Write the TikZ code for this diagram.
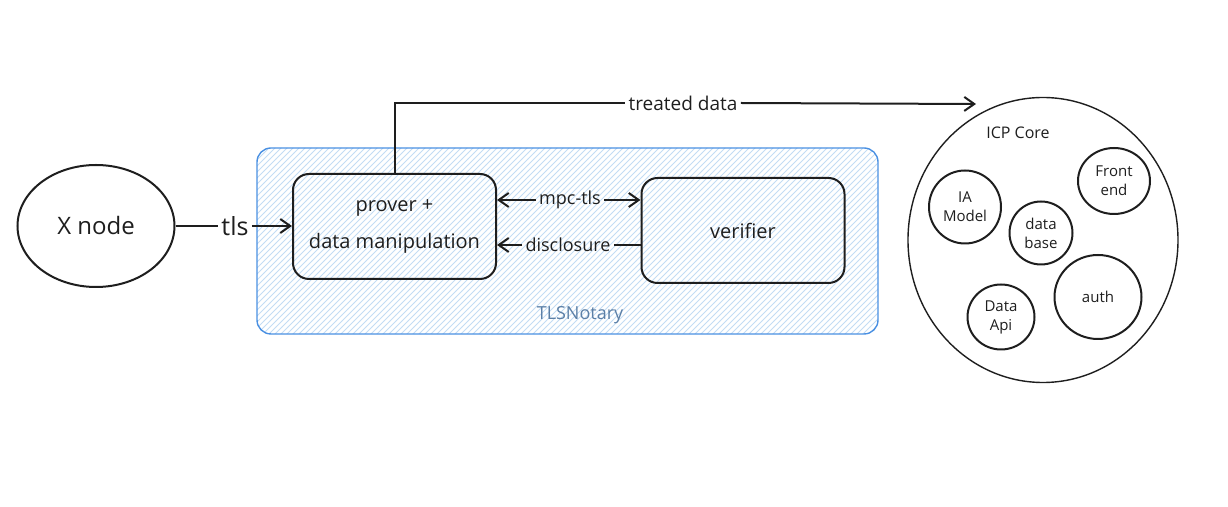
\documentclass[tikz,border=0pt]{standalone}
\usepackage{fontspec}
\setmainfont{Open Sans}
\usetikzlibrary{shapes.geometric,arrows.meta,patterns}
\definecolor{ink}{HTML}{1E1E1E}
\definecolor{notaryblue}{HTML}{4A90E2}
\definecolor{hatchblue}{HTML}{C3DCF4}
\definecolor{notarytext}{HTML}{5B7FA6}

\begin{document}
\begin{tikzpicture}[
    x=0.5pt,y=-0.5pt,
    tip/.style={line width=1pt, ink, -{Straight Barb[length=5pt,width=7pt]}},
    wire/.style={line width=1pt, ink},
    box/.style={draw=ink, line width=1pt, rounded corners=8pt, minimum width=101.5pt, minimum height=52.5pt, align=center, text=ink},
    blob/.style={ellipse, draw=ink, line width=1pt, align=center, text=ink, inner sep=0pt},
    lbl/.style={text=ink, inner sep=1.5pt}
    ]
    \useasboundingbox (0,0) rectangle (1228,507);
    \draw[notaryblue, line width=0.7pt, rounded corners=7pt, pattern=north east lines, pattern color=hatchblue] (257,148) rectangle (878,334);
    \node[text=notarytext, font=\fontsize{9}{11}\selectfont] (notary) at (580,315) {TLSNotary};

    \node[blob, minimum width=78.5pt, minimum height=61pt, font=\fontsize{12}{14}\selectfont] (xnode) at (96,226) {X node};
    \node[box, font=\fontsize{10}{18.5}\selectfont] (prover) at (394.5,226.5) {prover +\\data manipulation};
    \node[box, font=\fontsize{10}{12}\selectfont] (verifier) at (743,230.5) {verifier};

    \node[lbl, font=\fontsize{12.5}{14}\selectfont] (tls) at (235,226) {tls};
    \draw[wire] (xnode.east) -- (tls.west);
    \draw[tip] (tls.east) -- (prover.west |- tls);

    \node[lbl, font=\fontsize{9}{11}\selectfont] (mpc) at (570,200) {mpc-tls};
    \draw[tip] (mpc.west) -- (prover.east |- mpc);
    \draw[tip] (mpc.east) -- (verifier.west |- mpc);

    \node[lbl, font=\fontsize{9}{11}\selectfont] (disclosure) at (568,245) {disclosure};
    \draw[wire] (verifier.west |- disclosure) -- (disclosure.east);
    \draw[tip] (disclosure.west) -- (prover.east |- disclosure);

    \node[lbl, font=\fontsize{9.5}{11}\selectfont] (treated) at (683,103) {treated data};
    \coordinate (icpin) at (976,104);
    \draw[wire] (prover.north) |- (treated.west);
    \draw[tip] (treated.east) -- (icpin);

    \node[blob, line width=0.7pt, minimum width=135pt, minimum height=142.5pt] (icp) at (1043,240) {};
    \node[text=ink, font=\fontsize{8}{10}\selectfont] (icplabel) at (1018,133) {ICP Core};
    \node[blob, minimum width=36pt, minimum height=36.5pt, font=\fontsize{7.5}{9.5}\selectfont] (ia) at (965,207) {IA\\Model};
    \node[blob, minimum width=36pt, minimum height=33pt, font=\fontsize{7.5}{9.5}\selectfont] (front) at (1114,181) {Front\\end};
    \node[blob, minimum width=31.5pt, minimum height=31.5pt, font=\fontsize{7.5}{9.5}\selectfont] (base) at (1041,233) {data\\base};
    \node[blob, minimum width=43.5pt, minimum height=42pt, font=\fontsize{7.5}{9.5}\selectfont] (auth) at (1098,297) {auth};
    \node[blob, minimum width=33.5pt, minimum height=32.5pt, font=\fontsize{7.5}{9.5}\selectfont] (api) at (1001,317) {Data\\Api};
\end{tikzpicture}
\end{document}
